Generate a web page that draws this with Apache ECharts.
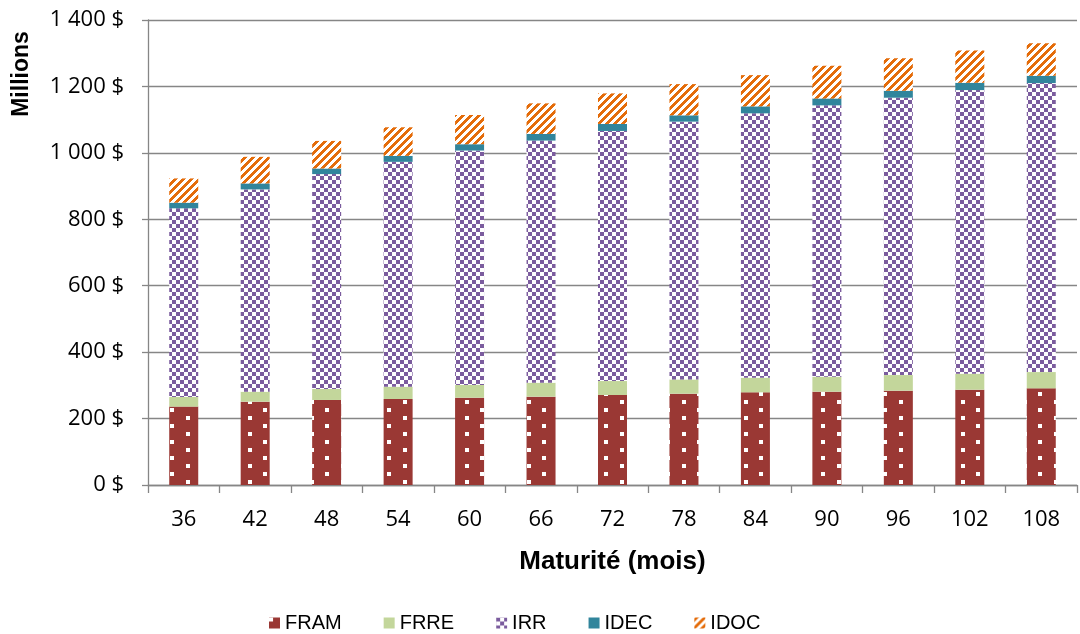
<!DOCTYPE html>
<html>
<head>
<meta charset="utf-8">
<script src="https://cdn.jsdelivr.net/npm/echarts@6/dist/echarts.min.js"></script>
<style>
  html, body { margin: 0; padding: 0; background: #ffffff; }
  #chart { width: 1080px; height: 634px; }
</style>
</head>
<body>
<div id="chart"></div>
<script>
// Maturity in months
const categories = ['36', '42', '48', '54', '60', '66', '72', '78', '84', '90', '96', '102', '108'];

// Stacked components, millions of dollars
const fram = [236, 251, 256, 259, 263, 266, 271, 275, 279, 281, 284, 287, 291];
const frre = [29, 30, 33, 37, 38, 42, 42, 43, 44, 45, 47, 48, 49];
const irr  = [568, 609, 647, 677, 706, 729, 753, 776, 796, 817, 835, 854, 870];
const idec = [17, 18, 17, 18, 19, 20, 21, 19, 21, 21, 21, 22, 22];
const idoc = [73, 80, 83, 86, 88, 92, 92, 94, 94, 98, 98, 97, 98];

const yTicks = { min: 0, max: 1400, step: 200 };

// Small canvas tiles used as repeating fills
function tile(w, h, draw) {
  const c = document.createElement('canvas');
  c.width = w; c.height = h;
  draw(c.getContext('2d'), w, h);
  return c;
}

const dotsFill = tile(31, 16, (g, w, h) => {
  g.fillStyle = '#9A3834';
  g.fillRect(0, 0, w, h);
  g.fillStyle = '#ffffff';
  g.fillRect(0, 0, 4, 4);
  g.fillRect(15, 8, 4, 4);
});

const checkFill = tile(8, 8, (g) => {
  g.fillStyle = '#ffffff';
  g.fillRect(0, 0, 8, 8);
  g.fillStyle = '#7B5C9E';
  g.fillRect(0, 0, 4, 4);
  g.fillRect(4, 4, 4, 4);
});

const stripeFill = tile(8, 8, (g) => {
  g.fillStyle = '#ffffff';
  g.fillRect(0, 0, 8, 8);
  g.fillStyle = '#E46C0A';
  for (let x = 0; x < 8; x++) {
    for (let y = 0; y < 8; y++) {
      if ((x + y) % 8 < 4) g.fillRect(x, y, 1, 1);
    }
  }
});

function money(v) {
  const s = String(Math.round(v)).replace(/\B(?=(\d{3})+(?!\d))/g, ' ');
  return s + ' $';
}

const axisGray = '#868686';
const labelFont = '"Open Sans", "Noto Sans", sans-serif';
const boldFont = '"Liberation Sans", Arial, sans-serif';

function barSeries(name, data, color) {
  return {
    name: name,
    type: 'bar',
    stack: 'total',
    data: data,
    barWidth: 29,
    itemStyle: { color: color },
    emphasis: { disabled: true }
  };
}

const chart = echarts.init(document.getElementById('chart'), null, { renderer: 'canvas' });

chart.setOption({
  animation: false,
  backgroundColor: '#ffffff',
  grid: { left: 148, right: 3, top: 20, bottom: 149, containLabel: false },
  legend: {
    left: 264,
    top: 608,
    icon: 'rect',
    itemWidth: 11,
    itemHeight: 11,
    itemGap: 42,
    textStyle: {
      fontFamily: boldFont,
      fontSize: 20,
      color: '#000000'
    },
    data: ['FRAM', 'FRRE', 'IRR', 'IDEC', 'IDOC']
  },
  xAxis: {
    type: 'category',
    data: categories,
    boundaryGap: true,
    name: 'Maturité (mois)',
    nameLocation: 'middle',
    nameGap: 64,
    nameTextStyle: {
      fontFamily: boldFont,
      fontWeight: 'bold',
      fontSize: 26,
      color: '#000000'
    },
    axisLine: { show: true, lineStyle: { color: axisGray, width: 1.3 } },
    axisTick: { show: true, alignWithLabel: false, length: 8, lineStyle: { color: axisGray, width: 1.3 } },
    axisLabel: { margin: 24, fontFamily: labelFont, fontSize: 22, color: '#000000' },
    splitLine: { show: false }
  },
  yAxis: {
    type: 'value',
    min: yTicks.min,
    max: yTicks.max,
    interval: yTicks.step,
    axisLine: { show: true, lineStyle: { color: axisGray, width: 1.3 } },
    axisTick: { show: true, inside: false, length: 6, lineStyle: { color: axisGray, width: 1.3 } },
    axisLabel: { margin: 24, fontFamily: labelFont, fontSize: 22, color: '#000000', formatter: money },
    splitLine: { show: true, lineStyle: { color: axisGray, width: 1.3 } }
  },
  graphic: [{
    type: 'text',
    x: 22,
    y: 74,
    rotation: Math.PI / 2,
    style: {
      text: 'Millions',
      align: 'center',
      verticalAlign: 'middle',
      fontFamily: boldFont,
      fontWeight: 'bold',
      fontSize: 23,
      fill: '#000000'
    }
  }],
  series: [
    barSeries('FRAM', fram, { image: dotsFill, repeat: 'repeat' }),
    barSeries('FRRE', frre, '#C3D69B'),
    barSeries('IRR', irr, { image: checkFill, repeat: 'repeat' }),
    barSeries('IDEC', idec, '#31859C'),
    barSeries('IDOC', idoc, { image: stripeFill, repeat: 'repeat' })
  ]
});
</script>
</body>
</html>
